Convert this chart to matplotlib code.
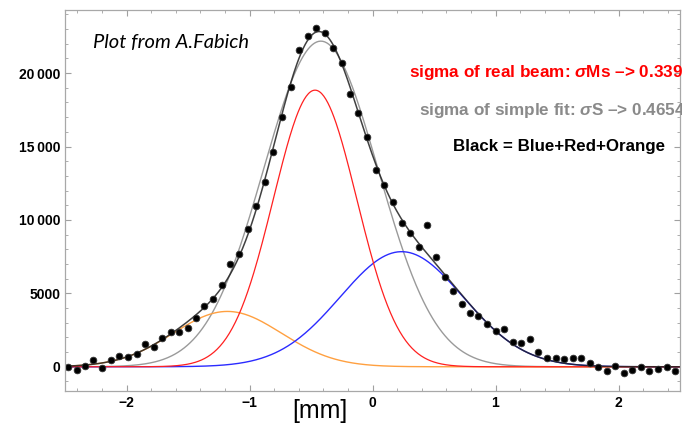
import numpy as np
import matplotlib
matplotlib.use('Agg')
import matplotlib.pyplot as plt
from matplotlib.ticker import MultipleLocator, FuncFormatter

plt.rcParams['mathtext.fontset'] = 'custom'
plt.rcParams['mathtext.it'] = 'Liberation Sans:italic:bold'
plt.rcParams['mathtext.rm'] = 'Liberation Sans:bold'

# measured beam profile (position in mm, counts)
x_mm = [-2.473, -2.405, -2.337, -2.270, -2.197, -2.128, -2.059, -1.985, -1.917, -1.850,
        -1.776, -1.709, -1.641, -1.571, -1.502, -1.435, -1.367, -1.294, -1.221, -1.156,
        -1.083, -1.015, -0.947, -0.876, -0.807, -0.738, -0.665, -0.595, -0.527, -0.459,
        -0.389, -0.319, -0.250, -0.183, -0.115, -0.047, 0.028, 0.096, 0.164, 0.237,
        0.305, 0.378, 0.443, 0.516, 0.587, 0.652, 0.725, 0.793, 0.860, 0.933,
        1.002, 1.069, 1.140, 1.210, 1.280, 1.348, 1.419, 1.489, 1.557, 1.628,
        1.695, 1.766, 1.836, 1.904, 1.972, 2.045, 2.112, 2.183, 2.250, 2.321,
        2.392, 2.459]
counts = [-20, -200, 70, 430, -90, 480, 700, 660, 880, 1560,
          1340, 1950, 2360, 2400, 2670, 3350, 4170, 4600, 5580, 6990,
          7670, 9370, 10950, 12560, 14630, 16990, 19050, 21560, 22540, 23040,
          22700, 21680, 20700, 18590, 17300, 15650, 13400, 12360, 11220, 9820,
          9100, 8180, 9640, 7500, 6140, 5150, 4260, 3650, 3470, 2900,
          2450, 2560, 1720, 1630, 1880, 1040, 570, 630, 540, 570,
          610, 250, -20, -320, 20, -390, -200, 0, -270, -180,
          -20, -270]

# gaussian fit components: amplitude, centre (mm), sigma (mm)
red_fit = [18840, -0.467, 0.3391]
blue_fit = [7840, 0.237, 0.50]
orange_fit = [3770, -1.18, 0.44]
simple_fit = [22180, -0.42, 0.46548]


def gauss(x, p):
    a, mu, s = p
    return a * np.exp(-(x - mu) ** 2 / (2 * s ** 2))


xs = np.linspace(-2.5, 2.5, 600)
g_red, g_blue, g_orange = gauss(xs, red_fit), gauss(xs, blue_fit), gauss(xs, orange_fit)
g_simple = gauss(xs, simple_fit)

fig = plt.figure(figsize=(6.82, 4.30), dpi=100)
ax = fig.add_axes([65 / 682, 1 - 391 / 430, 615 / 682, 381 / 430])

ax.plot(xs, g_simple, color='#9a9a9a', lw=1.0)
ax.plot(xs, g_orange, color='#ffa040', lw=1.0)
ax.plot(xs, g_blue, color='#2b2bff', lw=1.0)
ax.plot(xs, g_red, color='#ff2020', lw=0.9)
ax.plot(xs, g_red + g_blue + g_orange, color='#202020', lw=1.1, alpha=0.85)
ax.plot(x_mm, counts, 'o', color='black', ms=4.8, mec='#333333', mew=0.6)

ax.set_xlim(-2.5, 2.5)
ax.set_ylim(-1650, 24300)
ax.xaxis.set_major_locator(MultipleLocator(1))
ax.xaxis.set_minor_locator(MultipleLocator(0.2))
ax.yaxis.set_major_locator(MultipleLocator(5000))
ax.yaxis.set_minor_locator(MultipleLocator(1000))
ax.yaxis.set_major_formatter(FuncFormatter(
    lambda v, _: f"{int(v):,}".replace(',', '\u2009') if abs(v) >= 10000 else f"{int(v)}"))
ax.xaxis.set_major_formatter(FuncFormatter(lambda v, _: f"{int(round(v))}".replace('-', '\u2212')))
ax.tick_params(which='both', direction='in', top=True, right=True, colors='#a0a0a0',
               labelcolor='black', labelsize=10)
ax.tick_params(which='major', length=4.5, width=0.8)
ax.tick_params(which='minor', length=2.5, width=0.6)
for lab in ax.get_xticklabels() + ax.get_yticklabels():
    lab.set_fontfamily('Liberation Sans'); lab.set_fontweight('bold')
for sp in ax.spines.values():
    sp.set_color('#a8a8a8'); sp.set_linewidth(0.9)

fig.text(320 / 682, 1 - 411 / 430, "[mm]", ha='center', va='center',
         fontsize=18, family='Liberation Sans')
ax.text(0.045, 0.915, "Plot from A.Fabich", transform=ax.transAxes, ha='left', va='center',
        fontsize=14.5, family='Lato', style='italic')
fig.text(409 / 682, 1 - 73 / 430, "sigma of real beam: $\\sigma$Ms \u2013> 0.3391",
         ha='left', va='center', fontsize=12.3,
         family='Liberation Sans', weight='bold', color='#ff0000')
fig.text(419 / 682, 1 - 110 / 430, "sigma of simple fit: $\\sigma$S \u2013> 0.46548",
         ha='left', va='center', fontsize=12.3,
         family='Liberation Sans', weight='bold', color='#8a8a8a')
fig.text(453 / 682, 1 - 147 / 430, "Black = Blue+Red+Orange",
         ha='left', va='center', fontsize=12.2,
         family='Liberation Sans', weight='bold', color='black')

fig.savefig("out.png", dpi=100, facecolor='white')
